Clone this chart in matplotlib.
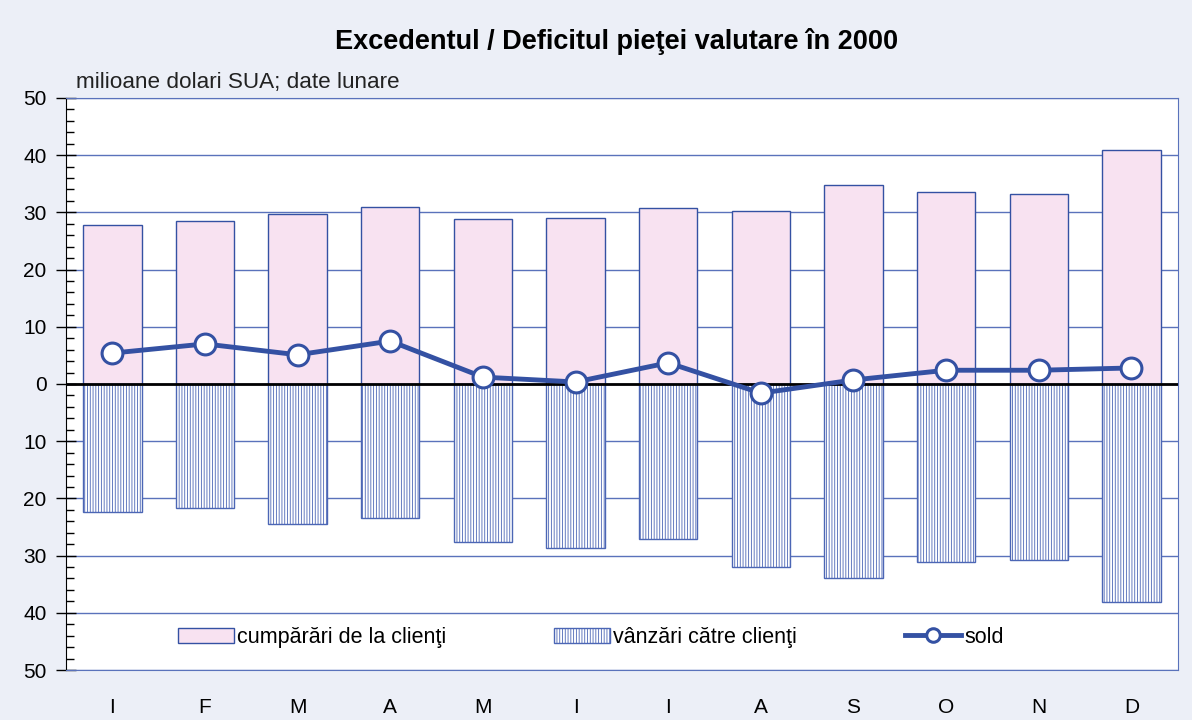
import numpy as np
import matplotlib.pyplot as plt
from matplotlib.ticker import MultipleLocator, FixedLocator

plt.rcParams['font.family'] = ['Liberation Sans', 'DejaVu Sans']
plt.rcParams['hatch.linewidth'] = 0.6

luni = ["I", "F", "M", "A", "M", "I", "I", "A", "S", "O", "N", "D"]
cumparari = [27.8, 28.5, 29.7, 30.9, 28.8, 29.0, 30.8, 30.2, 34.8, 33.6, 33.2, 40.9]
vanzari = [22.4, 21.7, 24.5, 23.4, 27.6, 28.7, 27.1, 32.0, 33.9, 31.1, 30.8, 38.1]
sold = [5.4, 7.0, 5.1, 7.5, 1.2, 0.35, 3.7, -1.6, 0.7, 2.4, 2.4, 2.8]
yticks = [50, 40, 30, 20, 10, 0, -10, -20, -30, -40, -50]

albastru = "#3451a3"
grila = "#5a72bb"
x = np.arange(len(luni))

fig = plt.figure(figsize=(11.92, 7.2), dpi=100, facecolor="#eceff7")
ax = fig.add_axes([0.0554, 0.0694, 0.9326, 0.7946])
ax.set_facecolor("white")

ax.bar(x, cumparari, width=0.63, color="#f8e2f1", edgecolor=albastru,
       linewidth=1.0, label="cumpărări de la clienţi", zorder=2)
ax.bar(x, [-v for v in vanzari], width=0.63, color="white", edgecolor="#4c66b5",
       hatch="||||||", linewidth=1.0, label="vânzări către clienţi", zorder=2)
ax.axhline(0, color="black", linewidth=2, zorder=3)
ax.plot(x, sold, color=albastru, linewidth=3.5, marker="o", markersize=15,
        markerfacecolor="white", markeredgecolor=albastru, markeredgewidth=2.2,
        label="sold", zorder=4)

ax.set_xlim(-0.5, 11.5)
ax.set_ylim(-50, 50)
ax.yaxis.set_major_locator(FixedLocator(yticks))
ax.set_yticklabels([str(abs(t)) for t in yticks], fontsize=15)
ax.yaxis.set_minor_locator(MultipleLocator(2))
ax.tick_params(axis="y", which="major", direction="inout", length=14, width=1, pad=7)
ax.tick_params(axis="y", which="minor", direction="in", length=6, width=1)
ax.set_xticks(x)
ax.set_xticklabels(luni, fontsize=15)
ax.tick_params(axis="x", length=0, pad=20)
ax.grid(axis="y", color=grila, linewidth=1, zorder=0)
ax.set_axisbelow(True)

for s in ["top", "right", "bottom"]:
    ax.spines[s].set_color(grila)
ax.spines["left"].set_color("black")

h, l = ax.get_legend_handles_labels()
ordine = [1, 2, 0]
ax.legend([h[i] for i in ordine], [l[i] for i in ordine], loc="lower center",
          bbox_to_anchor=(0.472, 0.005), ncol=3, frameon=False, fontsize=15.5,
          columnspacing=5.0, handlelength=2.6, handletextpad=0.15, markerscale=0.65)

fig.text(0.517, 0.942, "Excedentul / Deficitul pieţei valutare în 2000",
         ha="center", va="center", fontsize=19.5, fontweight="bold")
fig.text(0.064, 0.886, "milioane dolari SUA; date lunare", ha="left", va="center",
         fontsize=16.2, color="#222222")

fig.savefig("out.png", dpi=100, facecolor=fig.get_facecolor())
